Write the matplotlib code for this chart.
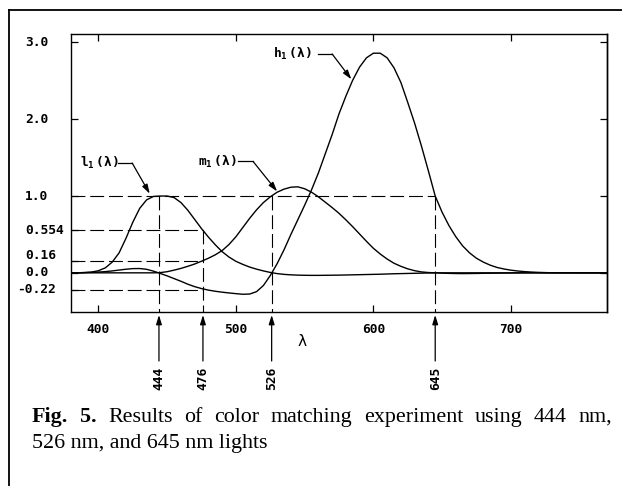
import matplotlib
matplotlib.use('Agg')
import matplotlib.pyplot as plt
from matplotlib.lines import Line2D
from matplotlib.patches import ArrowStyle

# ---------------- data ----------------
wavelength = [380, 385, 390, 395, 400, 405, 410, 415, 420, 425, 430, 435, 440, 445,
              450, 455, 460, 465, 470, 475, 480, 485, 490, 495, 500, 505, 510, 515,
              520, 525, 530, 535, 540, 545, 550, 555, 560, 565, 570, 575, 580, 585,
              590, 595, 600, 605, 610, 615, 620, 625, 630, 635, 640, 645, 650, 655,
              660, 665, 670, 675, 680, 685, 690, 695, 700, 705, 710, 715, 720, 725,
              730, 750, 770]

l1 = [0.0, 0.0, 0.004, 0.01, 0.028, 0.065, 0.14, 0.26, 0.45, 0.66, 0.84, 0.95, 0.995, 1.0,
      1.0, 0.98, 0.915, 0.815, 0.695, 0.575, 0.465, 0.365, 0.275, 0.205, 0.15, 0.11, 0.075, 0.048,
      0.025, 0.005, -0.01, -0.02, -0.026, -0.03, -0.032, -0.033, -0.033, -0.032, -0.031, -0.03, -0.028, -0.026,
      -0.024, -0.022, -0.02, -0.018, -0.015, -0.012, -0.01, -0.008, -0.006, -0.004, -0.002, 0.0, 0.0, 0.0,
      0.0, 0.0, 0.0, 0.0, 0.0, 0.0, 0.0, 0.0, 0.0, 0.0, 0.0, 0.0, 0.0, 0.0,
      0.0, 0.0, 0.0]

m1 = [0.0, 0.0, 0.0, 0.0, 0.0, 0.0, 0.0, 0.0, 0.0, 0.0, 0.0, 0.0, 0.0, 0.003,
      0.015, 0.035, 0.058, 0.085, 0.115, 0.152, 0.19, 0.235, 0.29, 0.37, 0.47, 0.59, 0.71, 0.82,
      0.915, 0.99, 1.05, 1.09, 1.115, 1.12, 1.095, 1.05, 0.99, 0.92, 0.85, 0.775, 0.69, 0.6,
      0.505, 0.41, 0.32, 0.245, 0.18, 0.125, 0.085, 0.052, 0.028, 0.012, 0.004, 0.0, -0.004, -0.007,
      -0.009, -0.01, -0.009, -0.008, -0.006, -0.005, -0.004, -0.003, -0.002, -0.001, 0.0, 0.0, 0.0, 0.0,
      0.0, 0.0, 0.0]

h1 = [0.0, 0.001, 0.003, 0.006, 0.01, 0.016, 0.025, 0.036, 0.047, 0.055, 0.056, 0.046, 0.022, -0.008,
      -0.04, -0.075, -0.11, -0.148, -0.18, -0.205, -0.225, -0.24, -0.252, -0.262, -0.271, -0.279, -0.276, -0.245,
      -0.165, -0.035, 0.12, 0.3, 0.5, 0.69, 0.88, 1.08, 1.3, 1.55, 1.8, 2.07, 2.3, 2.51,
      2.68, 2.8, 2.86, 2.86, 2.8, 2.67, 2.48, 2.22, 1.95, 1.65, 1.33, 1.0, 0.79, 0.615,
      0.47, 0.35, 0.26, 0.19, 0.14, 0.1, 0.07, 0.05, 0.035, 0.024, 0.016, 0.01, 0.006, 0.003,
      0.001, 0.0, 0.0]

primaries = [444, 526, 645]          # matching light wavelengths
test_wavelength = 476                # sample wavelength
test_values = [0.554, 0.16, -0.22]   # l1, m1, h1 at 476 nm
marked_wavelengths = [444, 476, 526, 645]

xticks = [400, 500, 600, 700]
xtick_labels = ['400', '500', '600', '700']
yticks = [3.0, 2.0, 1.0, 0.554, 0.16, 0.0, -0.22]
ytick_labels = ['3.0', '2.0', '1.0', '0.554', '0.16', '0.0', '-0.22']
right_yticks = [3.0, 2.0, 1.0, 0.0]

curve_labels = ['l', 'm', 'h']

caption_bold = ['Fig.', '5.']
caption_line1 = ['Results', 'of', 'color', 'matching', 'experiment', 'using', '444', 'nm,']
caption_line2 = '526 nm, and 645 nm lights'

# ---------------- style ----------------
plt.rcParams['mathtext.fontset'] = 'custom'
plt.rcParams['mathtext.rm'] = 'DejaVu Sans Mono'
plt.rcParams['mathtext.it'] = 'DejaVu Sans Mono'
plt.rcParams['mathtext.bf'] = 'DejaVu Sans Mono:bold'
plt.rcParams['lines.scale_dashes'] = False

MONO = 'DejaVu Sans Mono'
FS = 9.3
DASH = (10, 3.5)

fig = plt.figure(figsize=(6.22, 4.86), dpi=100)
W, H = 622, 486
ax_left, ax_right, ax_top, ax_bottom = 71, 607, 34, 312
ax = fig.add_axes([ax_left / W, 1 - ax_bottom / H,
                   (ax_right - ax_left) / W, (ax_bottom - ax_top) / H])

xmin, xmax = 380, 770
ymin, ymax = -0.51, 3.11
ax.set_xlim(xmin, xmax)
ax.set_ylim(ymin, ymax)

# curves
for vals in (l1, m1, h1):
    ax.plot(wavelength, vals, color='black', lw=1.0, solid_capstyle='round')

# dashed guide lines
ax.plot([xmin, primaries[-1]], [1.0, 1.0], color='black', lw=0.8, dashes=DASH)
for v in test_values:
    ax.plot([xmin, test_wavelength], [v, v], color='black', lw=0.8, dashes=DASH)
for p in primaries:
    ax.plot([p, p], [1.0, ymin], color='black', lw=0.8, dashes=DASH, clip_on=False)
ax.plot([test_wavelength, test_wavelength], [test_values[0], ymin],
        color='black', lw=0.8, dashes=DASH, clip_on=False)

# spines / ticks
for s in ax.spines.values():
    s.set_linewidth(1.0)
ax.set_xticks(xticks)
ax.set_xticklabels(xtick_labels, fontfamily=MONO, fontsize=FS, fontweight='bold')
ax.tick_params(axis='x', direction='in', top=True, length=5, width=0.9, pad=8)
ax.set_yticks(yticks)
ax.set_yticklabels([])
ax.tick_params(axis='y', direction='in', length=5, width=0.9)
sec = ax.secondary_yaxis('right')
sec.set_yticks(right_yticks)
sec.set_yticklabels([])
sec.tick_params(direction='in', length=5, width=0.9)
sec.spines['right'].set_linewidth(1.0)

# y labels, left-aligned as in the original
ax_w = ax_right - ax_left
char_w = 7.6
for v, lab in zip(yticks, ytick_labels):
    xpx = 25 - (char_w if lab.startswith('-') else 0)
    ax.text((xpx - ax_left) / ax_w, v + (0.07 if lab == '0.16' else 0), lab,
            transform=ax.get_yaxis_transform(), ha='left', va='center',
            fontfamily=MONO, fontsize=FS, fontweight='bold')

# lambda axis label
ax.set_xlabel('λ', fontfamily=MONO, fontsize=11)
ax.xaxis.set_label_coords((302 - ax_left) / ax_w, (ax_bottom - 342) / (ax_bottom - ax_top))
ax.xaxis.label.set_va('center')

# arrows under the axis
ah = ArrowStyle('-|>', head_length=0.55, head_width=0.17)
ax_h = ax_bottom - ax_top
y_tip = (ax_bottom - 315) / ax_h
y_tail = (ax_bottom - 361) / ax_h
y_lab = (ax_bottom - 378.5) / ax_h
for wl in marked_wavelengths:
    ax.annotate('', xy=(wl, y_tip), xytext=(wl, y_tail),
                xycoords=('data', 'axes fraction'), textcoords=('data', 'axes fraction'),
                arrowprops=dict(arrowstyle=ah, color='black', lw=0.9, mutation_scale=10,
                                shrinkA=0, shrinkB=0),
                annotation_clip=False)
    ax.text(wl, y_lab, str(wl), transform=ax.get_xaxis_transform(), rotation=90,
            ha='center', va='center', fontfamily=MONO, fontsize=FS, fontweight='bold')

# curve labels with leaders
label_layout = {
    'l': dict(text=(386.4, 1.43), lead=(414.0, 424.5), tip=(437.3, 1.03)),
    'm': dict(text=(472.2, 1.45), lead=(501.8, 512.5), tip=(530.0, 1.06)),
    'h': dict(text=(526.8, 2.85), lead=(560.0, 570.0), tip=(584.0, 2.52)),
}
for name in curve_labels:
    lay = label_layout[name]
    tx, ty = lay['text']
    ax.text(tx, ty, r'$\mathbf{%s_1\;(λ)}$' % name, ha='left', va='center',
            fontsize=FS)
    x0, x1 = lay['lead']
    ax.plot([x0, x1], [ty, ty], color='black', lw=0.9)
    ax.annotate('', xy=lay['tip'], xytext=(x1, ty),
                arrowprops=dict(arrowstyle=ah, color='black', lw=0.9, mutation_scale=10,
                                shrinkA=0, shrinkB=0))

# page frame (top + left)
fig.add_artist(Line2D([9 / W, 9 / W], [0, 1 - 10 / H], color='black', lw=1.3))
fig.add_artist(Line2D([9 / W, 1], [1 - 10 / H, 1 - 10 / H], color='black', lw=1.3))

# caption (first line justified, as in the printed journal)
SERIF = 'Liberation Serif'
CFS = 15.8
renderer = fig.canvas.get_renderer()
y1 = 1 - 421.7 / H
y2 = 1 - 447.5 / H
cap_x0, cap_x1 = 32, 612
words = [(w, 'bold') for w in caption_bold] + [(w, 'normal') for w in caption_line1]
texts = []
total = 0.0
for w, wt in words:
    t = fig.text(0, y1, w, fontfamily=SERIF, fontweight=wt, fontsize=CFS, va='baseline')
    wd = t.get_window_extent(renderer).width
    texts.append((t, wd))
    total += wd
gap = (cap_x1 - cap_x0 - total) / (len(words) - 1)
xcur = cap_x0
for t, wd in texts:
    t.set_x(xcur / W)
    xcur += wd + gap
fig.text(cap_x0 / W, y2, caption_line2, fontfamily=SERIF, fontsize=CFS, va='baseline')

fig.savefig('out.png', dpi=100)
